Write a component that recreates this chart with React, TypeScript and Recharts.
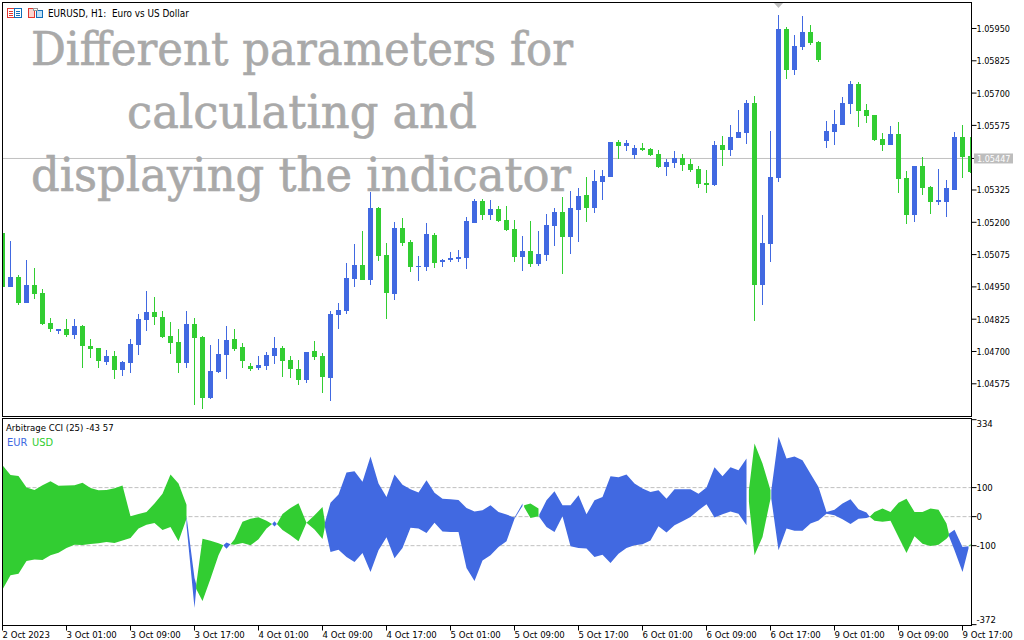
import { Area, Bar, CartesianGrid, ComposedChart, XAxis, YAxis } from 'recharts';

const BLUE = '#4169e1';
const GREEN = '#32cd32';
const GREY = '#c0c0c0';
const FONT = '"DejaVu Sans Condensed", "DejaVu Sans", sans-serif';

// EURUSD H1 in points (1/100000), oldest bar first.
const opens = [
    105158, 104949, 104988, 104887, 104957, 104926, 104810, 104779, 104787, 104764, 104798, 104721, 104713, 104659, 104682, 104628,
    104655, 104725, 104822, 104853, 104833, 104760, 104736, 104655, 104806, 104756, 104520, 104620, 104686, 104748, 104717, 104644,
    104636, 104644, 104682, 104713, 104667, 104632, 104589, 104702, 104682, 104597, 104841, 104856, 104980, 105034, 104976, 105255,
    105073, 104922, 105178, 105123, 105027, 105027, 105151, 105046, 105054, 105058, 105062, 105197, 105282, 105228, 105251, 105209,
    105174, 105065, 105089, 105038, 105073, 105185, 105240, 105143, 105247, 105305, 105255, 105356, 105375, 105510, 105495, 105460,
    105487, 105483, 105464, 105414, 105429, 105449, 105425, 105406, 105352, 105344, 105499, 105480, 105526, 105545, 105661, 104957,
    105116, 105371, 105948, 105789, 105878, 105936, 105897, 105514, 105549, 105576, 105658, 105735, 105634, 105615, 105522, 105499,
    105541, 105371, 105228, 105418, 105336, 105278, 105278, 105325, 105530, 105456,
];
const highs = [
    105158, 105127, 104996, 105054, 105023, 104942, 104829, 104787, 104825, 104825, 104802, 104748, 104713, 104706, 104702, 104663,
    104748, 104845, 104934, 104911, 104856, 104814, 104787, 104856, 104829, 104760, 104725, 104748, 104798, 104787, 104733, 104655,
    104682, 104698, 104756, 104721, 104682, 104667, 104698, 104740, 104694, 104856, 104887, 105042, 105116, 105166, 105317, 105259,
    105120, 105201, 105216, 105131, 105069, 105197, 105158, 105058, 105085, 105093, 105220, 105290, 105290, 105286, 105263, 105263,
    105209, 105147, 105205, 105166, 105232, 105255, 105298, 105321, 105332, 105375, 105402, 105402, 105510, 105518, 105518, 105499,
    105507, 105487, 105480, 105445, 105476, 105464, 105445, 105418, 105402, 105514, 105534, 105576, 105634, 105673, 105688, 105228,
    105553, 106002, 105956, 105925, 105998, 105963, 105901, 105592, 105634, 105685, 105747, 105743, 105658, 105615, 105545, 105572,
    105588, 105398, 105418, 105452, 105340, 105406, 105363, 105549, 105576, 105530,
];
const lows = [
    104949, 104949, 104880, 104887, 104903, 104802, 104775, 104767, 104756, 104748, 104636, 104675, 104636, 104648, 104593, 104605,
    104616, 104686, 104779, 104802, 104752, 104690, 104616, 104636, 104493, 104477, 104516, 104616, 104593, 104702, 104636, 104624,
    104628, 104628, 104651, 104601, 104597, 104570, 104578, 104667, 104539, 104508, 104787, 104845, 104949, 104976, 104957, 105050,
    104825, 104899, 105108, 105007, 104973, 105011, 105023, 105027, 105046, 105046, 105019, 105197, 105209, 105209, 105201, 105166,
    105046, 105011, 105027, 105031, 105050, 105108, 105000, 105077, 105123, 105201, 105236, 105286, 105375, 105445, 105476, 105445,
    105476, 105456, 105410, 105379, 105410, 105398, 105394, 105332, 105313, 105340, 105418, 105456, 105526, 105503, 104818, 104880,
    105046, 105356, 105754, 105770, 105867, 105886, 105820, 105487, 105499, 105576, 105619, 105569, 105584, 105514, 105476, 105499,
    105313, 105193, 105201, 105305, 105232, 105267, 105220, 105325, 105371, 105391,
];
const closes = [
    104949, 104988, 104887, 104957, 104922, 104806, 104787, 104787, 104764, 104798, 104721, 104709, 104663, 104682, 104628, 104659,
    104729, 104825, 104853, 104833, 104756, 104733, 104655, 104806, 104752, 104520, 104624, 104690, 104744, 104709, 104663, 104632,
    104648, 104686, 104713, 104663, 104632, 104589, 104698, 104678, 104601, 104845, 104860, 104984, 105034, 104976, 105255, 105069,
    104926, 105178, 105120, 105027, 105031, 105154, 105042, 105054, 105062, 105065, 105205, 105282, 105228, 105251, 105205, 105170,
    105065, 105089, 105038, 105077, 105189, 105240, 105143, 105255, 105302, 105255, 105360, 105379, 105510, 105495, 105507, 105487,
    105480, 105460, 105414, 105433, 105449, 105421, 105402, 105348, 105344, 105499, 105480, 105530, 105549, 105661, 104957, 105120,
    105375, 105948, 105789, 105882, 105936, 105894, 105828, 105553, 105580, 105661, 105735, 105630, 105611, 105518, 105499, 105541,
    105367, 105228, 105418, 105332, 105278, 105286, 105332, 105530, 105452, 105394,
];

const priceTicks = [
    1.0595, 1.05825, 1.057, 1.05575, 1.05447, 1.05325, 1.052, 1.05075, 1.0495, 1.04825, 1.047, 1.04575,
];
const lastPrice = 1.05447;

// Arbitrage CCI bands as [bar, high, low]; a row of nulls ends a piece.
const eurBand: [number, number | null, number | null][] = [
    [23, 2, -30], [24, -211, -315], [24.2, -231, -254], [24.3, null, null],
    [27.6, -99, -99], [28, -89, -111], [28.5, -95, -95], [28.6, null, null],
    [33.7, -25, -25], [34, -16, -34], [34.3, -25, -25], [34.4, null, null],
    [40.3, -21, -36], [41, 48, -122], [42, 76, -114], [43, 152, -139], [44, 156, -156], [45, 120, -125],
    [46, 207, -191], [47, 114, -116], [48, 68, -71], [49, 145, -143], [50, 110, -108], [51, 94, -38],
    [52, 83, -41], [53, 125, -56], [54, 82, -21], [55, 62, -51], [56, 60, -53], [57, 57, -53],
    [58, 30, -177], [59, 18, -222], [60, 22, -151], [61, 39, -133], [62, 16, -105], [63, 7, -85],
    [64, -3, -7], [65, 45, 37], [65.1, null, null],
    [67.1, 7, -1], [68, 56, -36], [69, 87, -53], [70, 39, 1], [71, 39, -102], [72, 74, -108],
    [73, 8, -110], [74, 56, -139], [75, 68, -131], [76, 139, -160], [77, 136, -128], [78, 145, -108],
    [79, 114, -99], [80, 97, -95], [81, 85, -82], [82, 91, -33], [83, 62, -55], [84, 94, -30],
    [85, 94, -16], [86, 94, -1], [87, 79, 22], [88, 100, 43], [89, 170, -3], [90, 139, 8],
    [91, 170, 18], [92, 160, 10], [93, 200, -30], [93.1, null, null],
    [96.1, 91, 62], [97, 275, -116], [98, 200, -41], [99, 207, -49], [100, 194, -49], [101, 148, -24],
    [102, 102, -13], [103, 16, 10], [104, 24, 5], [105, 45, -9], [106, 60, -25], [107, 25, -7],
    [108, 14, -5], [108.4, 0, 0], [108.5, null, null],
    [118.3, -59, -67], [119, -45, -116], [120, -105, -191], [120.75, -102, -110],
];
const usdBand: [number, number | null, number | null][] = [
    [0, 177, -251], [1, 143, -202], [2, 140, -197], [3, 100, -153], [4, 92, -148], [5, 108, -149],
    [6, 122, -133], [7, 106, -124], [8, 107, -108], [9, 108, -97], [10, 117, -98], [11, 99, -94],
    [12, 91, -92], [13, 92, -87], [14, 98, -91], [15, 107, -82], [16, 1, -74], [17, 9, -41],
    [18, 16, -28], [19, 45, -22], [20, 79, -46], [21, 145, -36], [22, 114, -85], [23, 41, -7], [23.1, null, null],
    [24.2, -237, -248], [25, -76, -291], [26, -83, -214], [27, -92, -133], [27.6, -99, -99], [27.7, null, null],
    [28.5, -95, -95], [29, -78, -97], [30, -18, -91], [31, -7, -99], [32, -2, -78], [33, -14, -41], [33.7, -25, -25], [33.8, null, null],
    [34.3, -25, -25], [35, 9, -46], [36, 30, -64], [37, 46, -85], [38, -21, -21], [39, 5, -44], [40, 33, -77], [40.3, -18, -36], [40.4, null, null],
    [65.2, 39, 33], [66, 45, -5], [67, 28, 1], [67.05, null, null],
    [93.3, 91, 51], [94, 252, -133], [95, 183, -70], [96, 91, 62], [96.05, null, null],
    [108.4, 0, 0], [109, 16, -14], [110, 28, -18], [111, 16, -14], [112, 48, -70], [113, 62, -125],
    [114, 16, -68], [115, 16, -93], [116, 28, -101], [117, 24, -97], [118, -24, -76], [118.3, -59, -67], [118.4, null, null],
    [120.8, -102, -102], [121, -93, -101],
];

const cciTicks = [334, 100, 0, -100, -372];
const cciLevels = [100, 0, -100];
const timeTicks = [0, 8, 16, 24, 32, 40, 48, 56, 64, 72, 80, 88, 96, 104, 112, 120];
const timeLabels = [
    '2 Oct 2023', '3 Oct 01:00', '3 Oct 09:00', '3 Oct 17:00', '4 Oct 01:00', '4 Oct 09:00', '4 Oct 17:00', '5 Oct 01:00',
    '5 Oct 09:00', '5 Oct 17:00', '6 Oct 01:00', '6 Oct 09:00', '6 Oct 17:00', '9 Oct 01:00', '9 Oct 09:00', '9 Oct 17:00',
];
const titleLines = ['Different parameters for', 'calculating and', 'displaying the indicator'];

const candles = opens.map((open, i) => ({
    bar: i,
    open: open / 100000,
    high: highs[i] / 100000,
    low: lows[i] / 100000,
    close: closes[i] / 100000,
}));

const toRows = (band: [number, number | null, number | null][]) =>
    band.map(([bar, high, low]) => ({ bar, range: high === null ? null : [low, high] }));

function Candle(props: any) {
    const { x, y, width, height, payload } = props;
    const perUnit = height / (payload.high - payload.low);
    const top = Math.max(payload.open, payload.close);
    const bottom = Math.min(payload.open, payload.close);
    const bodyTop = Math.round(y + (payload.high - top) * perUnit);
    const bodyBottom = Math.round(y + (payload.high - bottom) * perUnit);
    // Recharts puts a 5px bar in an 8px band one pixel right of the tick
    const cx = x + width / 2 - 1;
    const color = payload.close >= payload.open ? BLUE : GREEN;
    // the first and last candles are cut by the panel frame
    const left = Math.max(Math.round(cx - 2.5), 3);
    const right = Math.min(Math.round(cx + 2.5), 971);
    const wickX = Math.round(cx - 0.5);
    return (
        <g shapeRendering="crispEdges" fill={color}>
            {wickX >= 3 && wickX < 971 && <rect x={wickX} y={Math.round(y)} width={1} height={Math.round(height)} />}
            <rect x={left} y={bodyTop} width={right - left} height={Math.max(bodyBottom - bodyTop, 1)} />
        </g>
    );
}

function PriceTick({ x, y, payload }: any) {
    if (payload.value === lastPrice) {
        return (
            <g>
                <rect x={974} y={y - 5} width={39} height={10} fill="#bdbdbd" />
                <text x={977} y={y + 3.5} fontFamily={FONT} fontSize={9} fill="#fff">
                    {payload.value.toFixed(5)}
                </text>
            </g>
        );
    }
    return (
        <text x={x} y={y + 3.5} fontFamily={FONT} fontSize={9} fill="#000">
            {payload.value.toFixed(5)}
        </text>
    );
}

function CciTick({ x, y, payload }: any) {
    // the outer labels are pushed into the panel
    const shift = payload.value === 334 ? 4 : payload.value === -372 ? -5 : 0;
    return (
        <text x={x} y={y + 3.5 + shift} fontFamily={FONT} fontSize={9.5} fill="#000">
            {payload.value}
        </text>
    );
}

function TimeTick({ x, y, index }: any) {
    return (
        <text x={x} y={y + 5} fontFamily={FONT} fontSize={9.5} fill="#000">
            {timeLabels[index]}
        </text>
    );
}

function Overlay() {
    return (
        <svg width={1024} height={640} style={{ position: 'absolute', left: 0, top: 0 }}>
            <g fill="none" stroke="#000" shapeRendering="crispEdges">
                <rect x={2.5} y={2.5} width={969} height={414} />
                <rect x={2.5} y={418.5} width={969} height={207} />
            </g>
            <polygon points="774,3 783,3 778.5,8" fill="#bdbdbd" />
            <g shapeRendering="crispEdges" fill="none">
                <rect x={7.5} y={8.5} width={7} height={9} stroke="#e2362f" />
                <rect x={14.5} y={8.5} width={7} height={9} stroke="#0f6db8" />
                <path d="M9 11h4M9 13h4M9 15h4" stroke="#e2362f" />
                <path d="M16 11h4M16 13h4M16 15h4" stroke="#0f6db8" />
                <rect x={28.5} y={8.5} width={6} height={9} stroke="#e2362f" fill="#fbd5cf" />
                <rect x={36.5} y={10.5} width={6} height={7} stroke="#0f6db8" fill="#bfe0f6" />
                <rect x={33.5} y={8.5} width={4} height={2} stroke="#999" fill="#fff" />
            </g>
            <text x={48} y={17} fontFamily={FONT} fontSize={9.9} fill="#000" xmlSpace="preserve">
                {'EURUSD, H1:\u00a0 Euro vs US Dollar'}
            </text>
            <text x={6} y={431} fontFamily={FONT} fontSize={9.5} fill="#000">
                Arbitrage CCI (25) -43 57
            </text>
            <text x={7} y={446} fontFamily={FONT} fontSize={11} fill={BLUE}>EUR</text>
            <text x={32} y={446} fontFamily={FONT} fontSize={11} fill={GREEN}>USD</text>
            <g fontFamily='"DejaVu Serif", serif' fontSize={46} fill="#a9a9a9" stroke="#a9a9a9" strokeWidth={0.6}>
                <text x={31} y={65} textLength={542} lengthAdjust="spacingAndGlyphs">{titleLines[0]}</text>
                <text x={127} y={128} textLength={350} lengthAdjust="spacingAndGlyphs">{titleLines[1]}</text>
                <text x={31} y={191} textLength={540} lengthAdjust="spacingAndGlyphs">{titleLines[2]}</text>
            </g>
        </svg>
    );
}

export default function App() {
    return (
        <div style={{ position: 'absolute', left: 0, top: 0, width: 1024, height: 640, overflow: 'hidden', background: '#fff' }}>
            <div style={{ position: 'absolute', left: 0, top: 0 }}>
                <ComposedChart width={1024} height={420} data={candles} margin={{ top: 2.5, right: 0, bottom: 3.5, left: 2.5 }}>
                    <CartesianGrid vertical={false} horizontalValues={[lastPrice]} stroke={GREY} />
                    <XAxis dataKey="bar" scale="point" padding={{ left: 0, right: 1 }} hide />
                    <YAxis
                        orientation="right"
                        width={52.5}
                        domain={[1.044484, 1.060506]}
                        ticks={priceTicks}
                        interval={0}
                        tickSize={5}
                        tickMargin={0}
                        tick={<PriceTick />}
                        stroke="#000"
                        allowDataOverflow
                    />
                    <Bar dataKey={(d: any) => [d.low, d.high]} barSize={5} shape={<Candle />} isAnimationActive={false} />
                </ComposedChart>
            </div>
            <div style={{ position: 'absolute', left: 0, top: 418 }}>
                <ComposedChart width={1024} height={222} margin={{ top: 0.5, right: 0, bottom: 0, left: 2.5 }}>
                    <CartesianGrid vertical={false} horizontalValues={cciLevels} stroke={GREY} strokeDasharray="4 2" />
                    <XAxis
                        type="number"
                        dataKey="bar"
                        domain={[0, 121]}
                        padding={{ left: 0, right: 1 }}
                        ticks={timeTicks}
                        interval={0}
                        height={14.5}
                        tickSize={5}
                        tick={<TimeTick />}
                        stroke="#000"
                    />
                    <YAxis
                        orientation="right"
                        width={52.5}
                        domain={[-375, 338]}
                        ticks={cciTicks}
                        interval={0}
                        tickSize={5}
                        tickMargin={0}
                        tick={<CciTick />}
                        stroke="#000"
                        allowDataOverflow
                    />
                    <Area data={toRows(usdBand)} dataKey="range" stroke="none" fill={GREEN} fillOpacity={1} isAnimationActive={false} dot={false} activeDot={false} />
                    <Area data={toRows(eurBand)} dataKey="range" stroke="none" fill={BLUE} fillOpacity={1} isAnimationActive={false} dot={false} activeDot={false} />
                </ComposedChart>
            </div>
            <Overlay />
        </div>
    );
}
